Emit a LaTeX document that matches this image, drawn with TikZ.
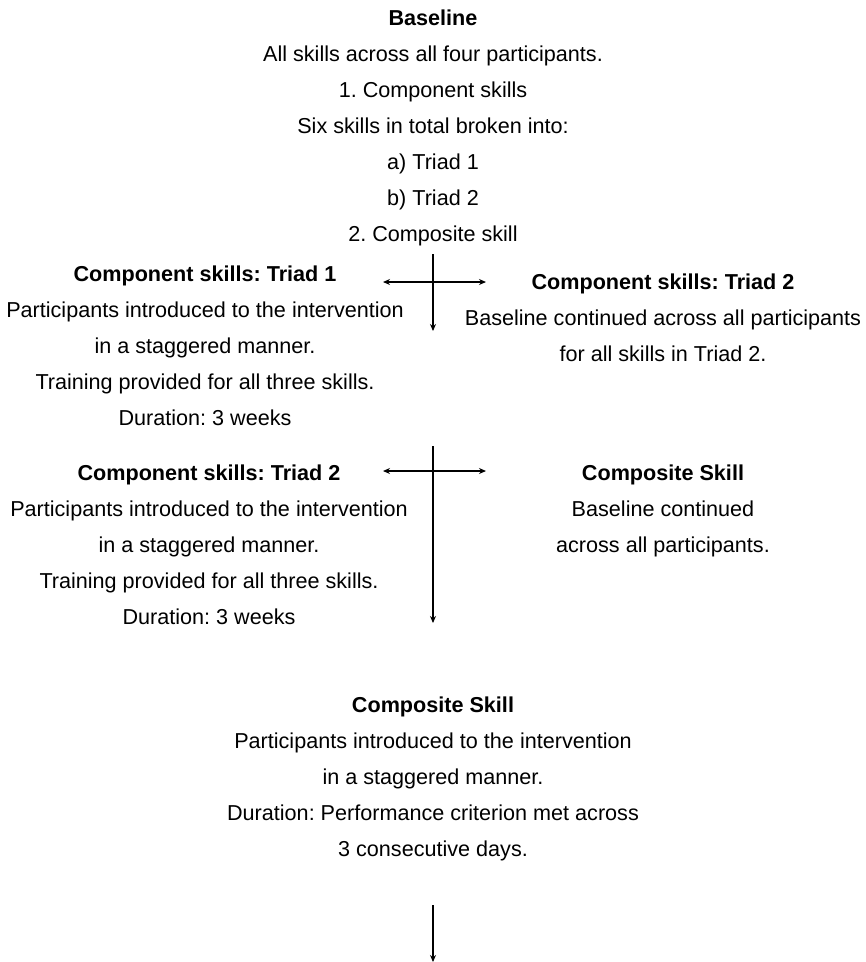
\documentclass[tikz,border=0pt]{standalone}
\usepackage{fontspec}
\setmainfont{Liberation Sans}
\usetikzlibrary{arrows.meta}
\frenchspacing
\begin{document}
\begin{tikzpicture}[x=1pt,y=-1pt,
  txt/.style={anchor=north,align=center,inner sep=0pt,font=\fontsize{21.6}{36}\selectfont\frenchspacing},
  conn/.style={line width=1.3pt,-{Stealth[length=7pt,width=6pt]}},
  biconn/.style={line width=1.3pt,{Stealth[length=7pt,width=6pt]}-{Stealth[length=7pt,width=6pt]}}]
\useasboundingbox[fill=white] (0,0) rectangle (866,962);

\node[txt] (base) at (433,10) {\textbf{Baseline}\\All skills across all four participants.\\1. Component skills\\Six skills in total broken into:\\a) Triad 1\\b) Triad 2\\2. Composite skill};

\node[txt] (t1) at (205,266) {\textbf{Component skills: Triad 1}\\Participants introduced to the intervention\\in a staggered manner.\\Training provided for all three skills.\\Duration: 3 weeks};

\node[txt] (t2b) at (663,274) {\textbf{Component skills: Triad 2}\\Baseline continued across all participants\\for all skills in Triad 2.};

\node[txt] (t2) at (209,465) {\textbf{Component skills: Triad 2}\\Participants introduced to the intervention\\in a staggered manner.\\Training provided for all three skills.\\Duration: 3 weeks};

\node[txt] (cb) at (663,465) {\textbf{Composite Skill}\\Baseline continued\\across all participants.};

\node[txt] (cs) at (433,697) {\textbf{Composite Skill}\\Participants introduced to the intervention\\in a staggered manner.\\Duration: Performance criterion met across\\3 consecutive days.};

% arrows
\coordinate (a1s) at (433,254);
\coordinate (a1e) at (433,331);
\coordinate (h1l) at (383,282);
\coordinate (h1r) at (486,282);
\draw[conn] (a1s) -- (a1e);
\draw[biconn] (h1l) -- (h1r);

\coordinate (a2s) at (433,446);
\coordinate (a2e) at (433,623);
\coordinate (h2l) at (383,471);
\coordinate (h2r) at (486,471);
\draw[conn] (a2s) -- (a2e);
\draw[biconn] (h2l) -- (h2r);

\coordinate (a3s) at (433,905);
\coordinate (a3e) at (433,962);
\draw[conn] (a3s) -- (a3e);
\end{tikzpicture}
\end{document}
